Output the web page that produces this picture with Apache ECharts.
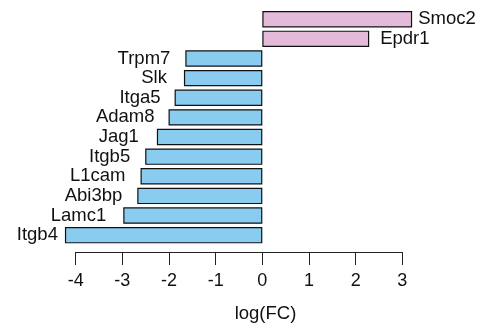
<!DOCTYPE html>
<html>
<head>
<meta charset="utf-8">
<script src="https://cdn.jsdelivr.net/npm/echarts@6/dist/echarts.min.js"></script>
<style>
html,body{margin:0;padding:0;background:#fff;}
#c{width:480px;height:328px;}
</style>
</head>
<body>
<div id="c"></div>
<script>
var genes = ["Smoc2","Epdr1","Trpm7","Slk","Itga5","Adam8","Jag1","Itgb5","L1cam","Abi3bp","Lamc1","Itgb4"];
var logFC = [3.21, 2.29, -1.65, -1.68, -1.88, -2.01, -2.26, -2.51, -2.61, -2.68, -2.98, -4.23];
var labelGap = [6, 11, 15, 17, 14, 14, 18, 15, 15, 15, 17, 7];
var xTicks = [-4, -3, -2, -1, 0, 1, 2, 3];
var upColor = "#E3BADA";
var downColor = "#8ACBF0";
var FONT = "Liberation Sans";

var data = logFC.map(function (v, i) {
  return {
    value: v,
    itemStyle: { color: v >= 0 ? upColor : downColor },
    label: { position: v >= 0 ? "right" : "left", distance: labelGap[i] }
  };
});

var chart = echarts.init(document.getElementById("c"), null, { renderer: "canvas" });
chart.setOption({
  animation: false,
  backgroundColor: "#fff",
  grid: { left: 75.67, right: 77.67, top: 9.4, bottom: 82.9, containLabel: false },
  xAxis: {
    type: "value",
    min: xTicks[0],
    max: xTicks[xTicks.length - 1],
    interval: 1,
    offset: 7,
    splitLine: { show: false },
    axisLine: { show: true, onZero: false, lineStyle: { color: "#222", width: 1 } },
    axisTick: { show: true, length: 13, lineStyle: { color: "#222", width: 1 } },
    axisLabel: { color: "#111", fontFamily: FONT, fontSize: 18, margin: 20 },
    name: "log(FC)",
    nameLocation: "middle",
    nameGap: 52,
    nameTextStyle: { color: "#111", fontFamily: FONT, fontSize: 18.5, padding: [0, 0, 0, 53] }
  },
  yAxis: {
    type: "category",
    data: genes,
    inverse: true,
    show: false
  },
  series: [{
    type: "bar",
    data: data,
    clip: false,
    barCategoryGap: "16.7%",
    itemStyle: { borderColor: "#111", borderWidth: 1.2 },
    label: {
      show: true,
      formatter: "{b}",
      color: "#111",
      fontFamily: FONT,
      fontSize: 18.5
    }
  }]
});
</script>
</body>
</html>
